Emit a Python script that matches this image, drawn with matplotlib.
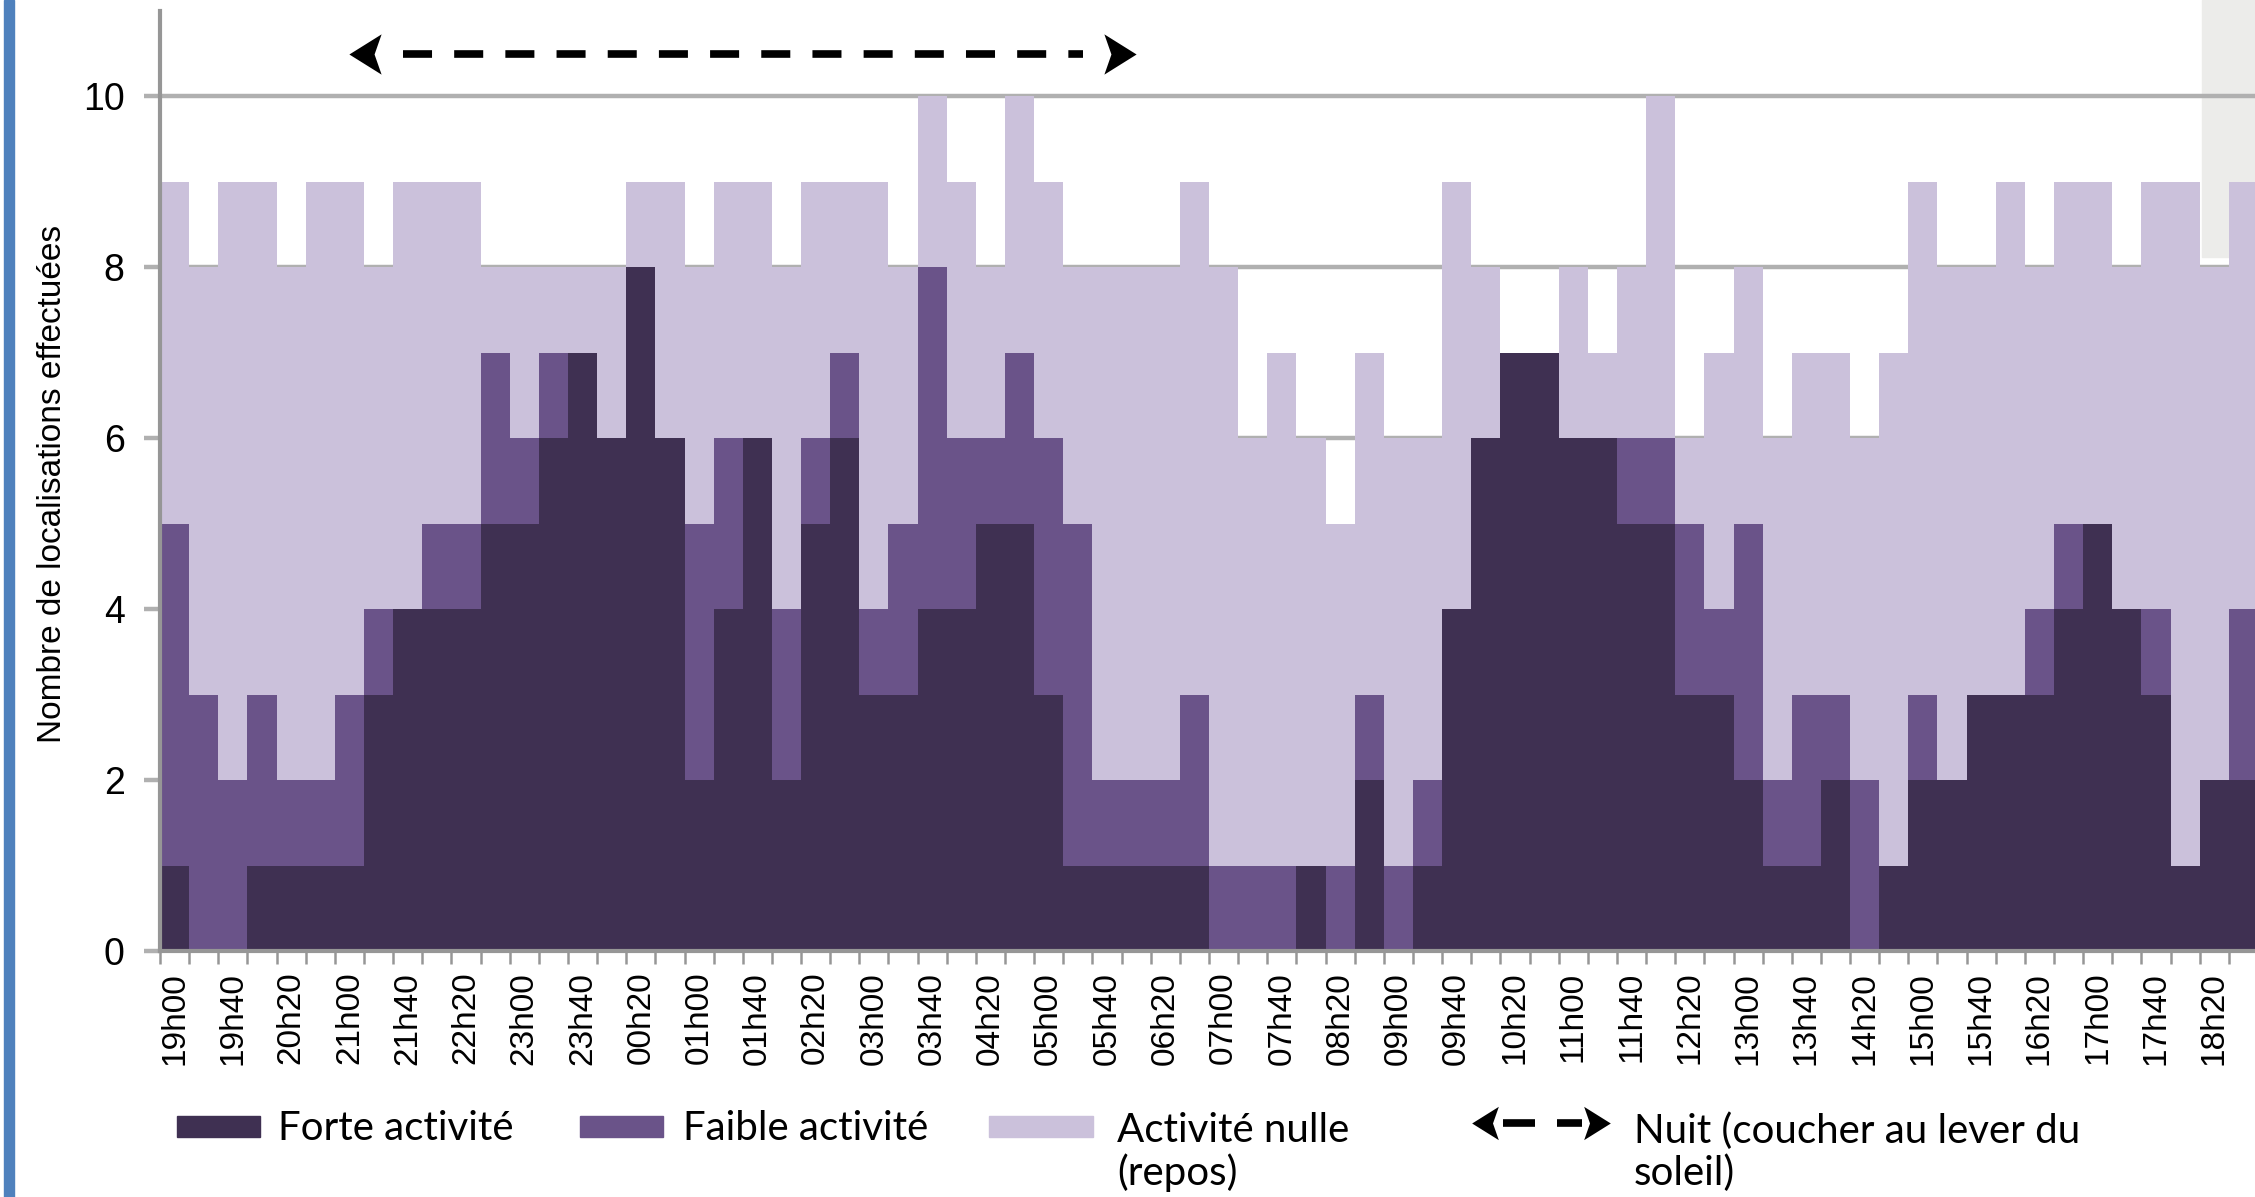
import matplotlib
matplotlib.use("Agg")
import matplotlib.pyplot as plt
import numpy as np
from matplotlib.patches import Rectangle
from matplotlib.lines import Line2D
from matplotlib.path import Path
import matplotlib.font_manager as fm

# ---------------- data ----------------
times = ["19h00","19h20","19h40","20h00","20h20","20h40","21h00","21h20","21h40",
         "22h00","22h20","22h40","23h00","23h20","23h40","00h00","00h20","00h40",
         "01h00","01h20","01h40","02h00","02h20","02h40","03h00","03h20","03h40",
         "04h00","04h20","04h40","05h00","05h20","05h40","06h00","06h20","06h40",
         "07h00","07h20","07h40","08h00","08h20","08h40","09h00","09h20","09h40",
         "10h00","10h20","10h40","11h00","11h20","11h40","12h00","12h20","12h40",
         "13h00","13h20","13h40","14h00","14h20","14h40","15h00","15h20","15h40",
         "16h00","16h20","16h40","17h00","17h20","17h40","18h00","18h20","18h40"]

x_labels = ["19h00","19h40","20h20","21h00","21h40","22h20","23h00","23h40","00h20",
            "01h00","01h40","02h20","03h00","03h40","04h20","05h00","05h40","06h20",
            "07h00","07h40","08h20","09h00","09h40","10h20","11h00","11h40","12h20",
            "13h00","13h40","14h20","15h00","15h40","16h20","17h00","17h40","18h20"]

forte = [1,0,0,1,1,1,1,3,4,4,
         4,5,5,6,7,6,8,6,2,4,
         6,2,5,6,3,3,4,4,5,5,
         3,1,1,1,1,1,0,0,0,1,
         0,2,0,1,4,6,7,7,6,6,
         5,5,3,3,2,1,1,2,0,1,
         2,2,3,3,3,4,5,4,3,1,
         2,2]
faible = [4,3,2,2,1,1,2,1,0,1,
          1,2,1,1,0,0,0,0,3,2,
          0,2,1,1,1,2,4,2,1,2,
          3,4,1,1,1,2,1,1,1,0,
          1,1,1,1,0,0,0,0,0,0,
          1,1,2,1,3,1,2,1,2,0,
          1,0,0,0,1,1,0,0,1,0,
          0,2]
nulle = [4,5,7,6,6,7,6,4,5,4,
         4,1,2,1,1,2,1,3,3,3,
         3,4,3,2,5,3,2,3,2,3,
         3,3,6,6,6,6,7,5,6,5,
         4,4,5,4,5,2,0,0,2,1,
         2,4,1,3,3,4,4,4,4,6,
         6,6,5,6,4,4,4,4,5,8,
         6,5]

series_names = ["Forte activité", "Faible activité", "Activité nulle\n(repos)"]
night_label = "Nuit (coucher au lever du\nsoleil)"
night_start, night_end = "21h00", "06h00"
y_ticks = [0, 2, 4, 6, 8, 10]
y_title = "Nombre de localisations effectuées"

# ---------------- style ----------------
C_FORTE = "#3f3052"
C_FAIBLE = "#6a5389"
C_NULLE = "#cbc1db"
GRID = "#b0b0b0"
AXC = "#969696"
W, H = 2255, 1197

names = {f.name for f in fm.fontManager.ttflist}
if "Liberation Sans Narrow" in names:
    XT_FONT, XT_SIZE = "Liberation Sans Narrow", 28
else:
    XT_FONT, XT_SIZE = "Liberation Sans", 24
SANS = "Liberation Sans" if "Liberation Sans" in names else "DejaVu Sans"
LFONT = ["Lato", "DejaVu Sans"]

# notched arrowhead markers (left / right pointing)
_v = [(-0.8, 0.0), (0.8, 1.0), (0.45, 0.0), (0.8, -1.0), (-0.8, 0.0)]
_c = [Path.MOVETO, Path.LINETO, Path.LINETO, Path.LINETO, Path.CLOSEPOLY]
HEAD_L = Path(_v, _c)
HEAD_R = Path([(-x, y) for x, y in _v], _c)


def fx(px):
    return px / W


def fy(py):
    return 1 - py / H


fig = plt.figure(figsize=(W / 100, H / 100), dpi=100)
fig.patch.set_facecolor("white")

# slide decorations
fig.add_artist(Rectangle((fx(4), 0), fx(10), 1, transform=fig.transFigure,
                         color="#4f81bd", zorder=-1))
fig.add_artist(Rectangle((fx(2202), fy(257)), fx(53), 257 / H, transform=fig.transFigure,
                         color="#ececea", zorder=-1))

ax = fig.add_axes([fx(160), fy(951), fx(2258) - fx(160), (951 - 11.0) / H])
ax.patch.set_alpha(0)

n = len(times)
edges = np.arange(n + 1) - 0.5
f = np.array(forte)
fa = np.array(faible)
nu = np.array(nulle)
ax.stairs(f, edges, baseline=0, fill=True, color=C_FORTE, lw=0, zorder=2)
ax.stairs(f + fa, edges, baseline=f, fill=True, color=C_FAIBLE, lw=0, zorder=2)
ax.stairs(f + fa + nu, edges, baseline=f + fa, fill=True, color=C_NULLE, lw=0, zorder=2)

ax.set_xlim(-0.5, n - 0.5)
ax.set_ylim(0, 11)
ax.set_yticks(y_ticks)
ax.set_yticklabels([str(v) for v in y_ticks], fontsize=27, family=SANS)
ax.yaxis.grid(True, color=GRID, lw=3.2, zorder=0)
ax.set_axisbelow(True)

# x ticks: marks at every bin boundary, labels on every other bin
ax.set_xticks(edges)
ax.set_xticklabels([])
lab_pos = [times.index(t) for t in x_labels]
ax.set_xticks(lab_pos, minor=True)
ax.set_xticklabels(x_labels, minor=True, rotation=90, fontsize=XT_SIZE, family=XT_FONT)
ax.tick_params(axis="x", which="major", length=9.5, width=1.8, color=AXC, direction="out")
ax.tick_params(axis="x", which="minor", length=0, pad=15)
ax.tick_params(axis="y", length=11.5, width=3.2, color=GRID, direction="out", pad=14)

for s in ["top", "right"]:
    ax.spines[s].set_visible(False)
ax.spines["left"].set_color(AXC)
ax.spines["left"].set_linewidth(3.0)
ax.spines["bottom"].set_color(AXC)
ax.spines["bottom"].set_linewidth(3.0)
ax.spines["bottom"].set_zorder(3)
ax.spines["left"].set_zorder(3)

fig.text(fx(53), fy(484), y_title, rotation=90, ha="center", va="center",
         fontsize=24, family=SANS)

# night arrow (dashed shaft + notched heads)
xs, xe = times.index(night_start), times.index(night_end)
ya = 10.5
ax.plot([xs + 1.83, xe - 1.83], [ya, ya], color="black", lw=5.5,
        linestyle=(0, (3.8, 2.9)), dash_capstyle="butt", clip_on=False, zorder=5)
ax.plot([xs + 0.55], [ya], marker=HEAD_L, markersize=29, color="black", lw=0,
        markeredgewidth=0, clip_on=False, zorder=5)
ax.plot([xe - 0.55], [ya], marker=HEAD_R, markersize=29, color="black", lw=0,
        markeredgewidth=0, clip_on=False, zorder=5)

# legend (manual, bottom)
LSIZE = 29
boxes = [(177, 260, C_FORTE), (580, 663, C_FAIBLE), (989, 1093, C_NULLE)]
texts_x = [278, 683, 1117]
for (x0, x1, c), tx, name in zip(boxes, texts_x, series_names):
    fig.add_artist(Rectangle((fx(x0), fy(1137)), fx(x1) - fx(x0), 21 / H,
                             transform=fig.transFigure, color=c))
    if "\n" in name:
        fig.text(fx(tx), fy(1152), name, fontsize=LSIZE, family=LFONT,
                 ha="left", va="center", linespacing=1.15)
    else:
        fig.text(fx(tx), fy(1129), name, fontsize=LSIZE, family=LFONT,
                 ha="left", va="center")

yl = fy(1123)
for (a, b) in [(1503, 1535), (1557, 1582)]:
    fig.add_artist(Line2D([fx(a), fx(b)], [yl, yl], transform=fig.transFigure,
                          color="black", lw=5.5, solid_capstyle="butt"))
fig.add_artist(Line2D([fx(1485)], [yl], transform=fig.transFigure, marker=HEAD_L,
                      markersize=24, color="black", lw=0, markeredgewidth=0))
fig.add_artist(Line2D([fx(1597)], [yl], transform=fig.transFigure, marker=HEAD_R,
                      markersize=24, color="black", lw=0, markeredgewidth=0))
fig.text(fx(1634), fy(1152), night_label, fontsize=LSIZE, family=LFONT,
         ha="left", va="center", linespacing=1.15)

fig.savefig("out.png", dpi=100)
